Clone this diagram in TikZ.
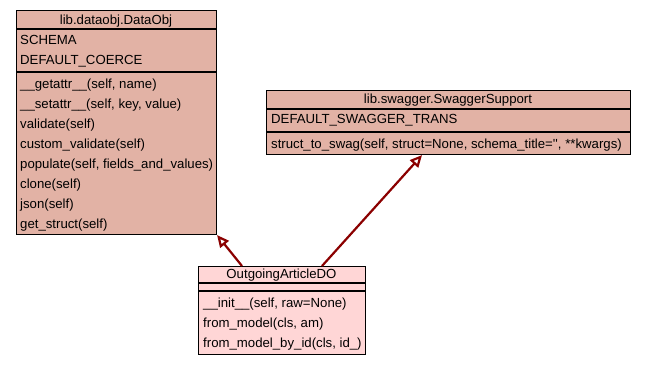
\documentclass[tikz,border=0pt]{standalone}
\usepackage{fontspec}
\setmainfont{Liberation Sans}
\usepackage{xcolor}
\usetikzlibrary{arrows.meta}
\definecolor{clsfill}{RGB}{226,178,165}
\definecolor{dofill}{RGB}{255,214,214}
\definecolor{inherit}{RGB}{139,0,0}

\begin{document}
\begin{tikzpicture}[x=1pt,y=-1pt,font=\fontsize{13.2}{15}\selectfont,
  box/.style={draw,line width=1.1pt,anchor=north west,inner sep=0pt},
  sep/.style={line width=1.1pt},
  txt/.style={anchor=base west,inner sep=0pt},
  ttl/.style={anchor=base,inner sep=0pt},
  isa/.style={draw=inherit,line width=2.2pt,-{Triangle[open,length=12pt,width=11pt]}}]
\useasboundingbox (0,0) rectangle (645,365);
% class boxes
\node[box,fill=clsfill,minimum width=200pt,minimum height=224pt](dataobj) at(16,10){};
\node[box,fill=clsfill,minimum width=364pt,minimum height=64pt](swagger) at(266,90){};
\node[box,fill=dofill,minimum width=167pt,minimum height=88pt](outgoing) at(198,266){};
\draw[sep]([yshift=-19pt]dataobj.north west)--++(200,0);
\draw[sep]([yshift=-62pt]dataobj.north west)--++(200,0);
\draw[sep]([yshift=-19pt]swagger.north west)--++(364,0);
\draw[sep]([yshift=-42pt]swagger.north west)--++(364,0);
\draw[sep]([yshift=-17pt]outgoing.north west)--++(167,0);
\draw[sep]([yshift=-25pt]outgoing.north west)--++(167,0);
% lib.dataobj.DataObj
\node[ttl] at(116,24){lib.dataobj.DataObj};
\node[txt] at(20,44){SCHEMA};\node[txt] at(20,64){DEFAULT\_COERCE};
\foreach \m [count=\i] in {{\_\_getattr\_\_(self, name)},{\_\_setattr\_\_(self, key, value)},
  validate(self),custom\_validate(self),{populate(self, fields\_and\_values)},
  clone(self),json(self),get\_struct(self)}
  \node[txt] at(20,{68+20*\i}){\m};
% lib.swagger.SwaggerSupport
\node[ttl] at(448,103){lib.swagger.SwaggerSupport};
\node[txt] at(271,123){DEFAULT\_SWAGGER\_TRANS};
\node[txt] at(271,148){struct\_to\_swag(self, struct=None, schema\_title=\textquotesingle\textquotesingle, **kwargs)};
% OutgoingArticleDO
\node[ttl] at(281.5,278){OutgoingArticleDO};
\node[txt] at(203,307){\_\_init\_\_(self, raw=None)};
\node[txt] at(203,327){from\_model(cls, am)};
\node[txt] at(203,347){from\_model\_by\_id(cls, id\_)};
% inheritance
\draw[isa]([xshift=44pt]outgoing.north west)--(dataobj.south east);
\draw[isa]([xshift=124pt]outgoing.north west)--([xshift=156pt]swagger.south west);
\end{tikzpicture}
\end{document}
